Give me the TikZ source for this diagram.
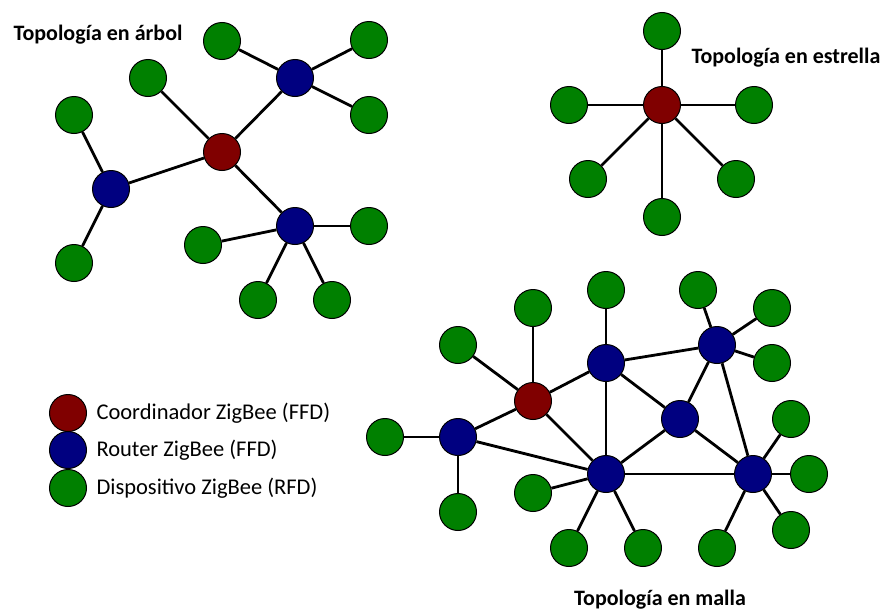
\documentclass[tikz,border=0pt]{standalone}
\usepackage{fontspec}
\setmainfont{Carlito}
\definecolor{coordred}{RGB}{128,0,0}
\definecolor{routerblue}{RGB}{0,0,128}
\definecolor{devgreen}{RGB}{0,128,0}
\begin{document}
\begin{tikzpicture}[x=1pt,y=-1pt,
  devnode/.style={circle,draw=black,line width=1pt,fill=devgreen,minimum size=37pt,inner sep=0pt},
  coordnode/.style={devnode,fill=coordred},
  routernode/.style={devnode,fill=routerblue},
  link/.style={line width=2.8pt},
  ttl/.style={font=\bfseries\fontsize{22}{26}\selectfont},
  legtext/.style={font=\fontsize{22.5}{27}\selectfont,anchor=west}]
 \useasboundingbox (0,0) rectangle (885,613);

 % arbol
 \node[ttl,anchor=west] (tt) at (10,35) {Topología en árbol};
 \node[coordnode] (tco) at (222,152) {};
 \node[routernode] (tr1) at (295,78) {};
 \node[routernode] (tr2) at (111,189) {};
 \node[routernode] (tr3) at (295,226) {};
 \foreach \n/\x/\y in {a/222/41,b/369/40,c/369/115,d/148/78,e/74/115,
                       f/74/263,g/203/245,h/369/226,i/258/300,j/332/300}
   \node[devnode] (t\n) at (\x,\y) {};
 \foreach \a/\b in {tco/tr1,tco/tr2,tco/tr3,tco/td,tr1/ta,tr1/tb,tr1/tc,
                    tr2/te,tr2/tf,tr3/tg,tr3/th,tr3/ti,tr3/tj}
   \draw[link] (\a) -- (\b);

 % estrella
 \node[ttl,anchor=west] (st) at (688,58) {Topología en estrella};
 \node[coordnode] (sco) at (662,105) {};
 \foreach \n/\x/\y in {a/662/31,b/569/105,c/754/105,d/588/179,e/736/179,f/662/217}
   {\node[devnode] (s\n) at (\x,\y) {};
    \draw[link] (sco) -- (s\n);}

 % malla
 \node[ttl] (mt) at (660,600) {Topología en malla};
 \node[coordnode] (mco) at (533,401) {};
 \node[routernode] (mr1) at (458,437) {};
 \node[routernode] (mr2) at (606,363) {};
 \node[routernode] (mr3) at (717,345) {};
 \node[routernode] (mr4) at (680,419) {};
 \node[routernode] (mr5) at (606,474) {};
 \node[routernode] (mr6) at (753,474) {};
 \foreach \n/\x/\y in {a/533/308,b/458/345,c/606/290,d/698/290,e/772/308,
                       f/772/363,g/791/419,h/809/474,i/791/530,j/717/548,
                       k/643/548,l/569/548,m/533/493,n/458/512,o/385/437}
   \node[devnode] (m\n) at (\x,\y) {};
 \foreach \a/\b in {mco/ma,mco/mb,mco/mr1,mco/mr2,mco/mr5,mr1/mo,mr1/mn,mr1/mr5,
                    mr2/mc,mr2/mr3,mr2/mr5,mr2/mr4,mr3/md,mr3/me,mr3/mf,
                    mr3/mr4,mr3/mr6,mr4/mr5,mr4/mr6,mr5/mr6,mr5/mm,mr5/ml,
                    mr5/mk,mr6/mg,mr6/mh,mr6/mi,mr6/mj}
   \draw[link] (\a) -- (\b);

 % leyenda
 \node[coordnode] (lc) at (68,413) {};
 \node[routernode] (lr) at (68,450) {};
 \node[devnode] (ld) at (68,488) {};
 \node[legtext] at (93,413) {Coordinador ZigBee (FFD)};
 \node[legtext] at (93,450) {Router ZigBee (FFD)};
 \node[legtext] at (93,488) {Dispositivo ZigBee (RFD)};
\end{tikzpicture}
\end{document}
